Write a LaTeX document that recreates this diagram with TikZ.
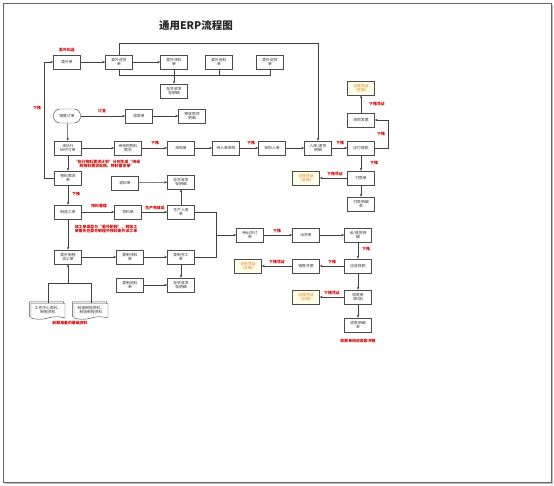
\documentclass[tikz,border=0pt]{standalone}
\usepackage{fontspec}
\newfontfamily\cjk{Noto Sans CJK SC}
\usetikzlibrary{arrows.meta,shapes.symbols,shadows}
\tikzset{
 bx/.style={draw=black!70, line width=0.45pt, fill=white, minimum width=27pt, minimum height=14pt, inner sep=0.5pt, align=center, font=\cjk\fontsize{3.8}{4.6}\selectfont, text=black!80},
 ybx/.style={bx, text=orange!90!black, fill=yellow!8},
 docbx/.style={bx, shape=tape, tape bend top=none, tape bend height=2.5pt, minimum height=16pt, minimum width=34pt, copy shadow={shadow xshift=-1.3pt, shadow yshift=1.3pt, fill=white, draw=black!70, line width=0.45pt}},
 lbl/.style={font=\cjk\bfseries\fontsize{3.9}{4.7}\selectfont, text=red!80!black, align=center, inner sep=0.5pt},
 ar/.style={draw=black!75, line width=0.5pt, -{Stealth[length=3pt,width=2.4pt]}},
 ln/.style={draw=black!75, line width=0.5pt},
}
\begin{document}
\begin{tikzpicture}[x=1pt,y=-1pt]
\useasboundingbox (0,0) rectangle (554,485);
\draw[black!25, line width=1.2pt] (5,483) -- (552,483) -- (552,5);
\draw[black!60, line width=0.7pt] (3,3) rectangle (551,482);
\node[font=\cjk\bfseries\fontsize{10.5}{12}\selectfont, text=black!85] (title) at (196,26) {通用ERP流程图};
% top row
\node[bx] (w1) at (67,62) {委外单};
\node[lbl] (l1) at (67,50) {委外料品};
\node[bx] (w2) at (119,62) {委外进货\\单};
\node[bx] (w3) at (174,62) {委外领料\\单};
\node[bx] (w4) at (219,62) {委外退料\\单};
\node[bx] (w5) at (270,62) {委外退货\\单};
\node[bx] (wm) at (174,91) {存货收发\\存明细};
% row 2
\node[bx, rounded corners=6.5pt] (so) at (67,116) {销售订单};
\node[bx] (sk) at (139,116) {收款单};
\node[bx] (ysk) at (192,116) {预收款项\\明细};
% row 3
\node[bx] (mrp) at (68,148) {未执行\\MRP订单};
\node[bx] (dcg) at (128,148) {待采购物料\\需求};
\node[bx] (cg) at (181,148) {采购单};
\node[bx] (drk) at (226,148) {待入库采购};
\node[bx] (cgrk) at (272,148) {采购入库};
\node[bx] (ruk) at (318,148) {入库/退货\\明细};
\node[bx] (yf) at (361,148) {应付账款};
\node[bx] (fp) at (361,120) {采购发票};
\node[ybx] (yz1) at (361,88) {记账凭证\\（总账）};
\node[bx] (fk) at (361,178) {付款单};
\node[ybx] (yz2) at (306,178) {记账凭证\\（总账）};
\node[bx] (fkmx) at (361,204) {付款明细\\表};
% left column
\node[bx] (wl) at (68,178) {物料需求\\单};
\node[bx] (tl) at (125,183) {退料单};
\node[bx] (mx2) at (181,182) {存货收发\\存明细};
\node[bx] (zz) at (68,212) {制造工单};
\node[bx] (ll) at (128,212) {领料单};
\node[bx] (sr) at (181,212) {生产入库\\单};
\node[bx] (wp) at (68,257) {委外制程\\派工单};
\node[bx] (wl2) at (130,257) {委制领料\\单};
\node[bx] (wg) at (181,257) {委制完工\\单};
\node[bx] (wt) at (130,285) {委制退料\\单};
\node[bx] (mx3) at (181,285) {存货收发\\存明细};
\node[docbx] (d1) at (48,310) {工作中心资料、\\制程资料};
\node[docbx] (d2) at (91,310) {制造制程资料、\\制造制程资料};
% right lower
\node[bx] (dch) at (250,235) {待出货订\\单};
\node[bx] (ch) at (306,235) {出货单};
\node[bx] (cth) at (358,235) {出/退货明\\细};
\node[bx] (ys2) at (358,266) {应收账款};
\node[bx] (kp) at (306,266) {销售开票};
\node[ybx] (yz3) at (248,266) {记账凭证\\（总账）};
\node[bx] (skx) at (358,297) {收款单\\（新增）};
\node[ybx] (yz4) at (306,297) {记账凭证\\（总账）};
\node[bx] (skmx) at (358,325) {收款明细\\表};
% red labels
\node[lbl] (r1) at (37,108) {下推};
\node[lbl] (r2) at (102,111) {订金};
\node[lbl] (r3) at (155,143) {下推};
\node[lbl] (r4) at (251,143) {下推};
\node[lbl] (r5) at (340,143) {下推};
\node[lbl] (r6) at (377,104) {下推凭证};
\node[lbl] (r7) at (381,134) {下推};
\node[lbl] (r8) at (374,163) {下推};
\node[lbl] (r9) at (335,174) {下推凭证};
\node[lbl] (r10) at (107,164) {“执行物料需求计划”分别生成“待采\\购物料需求采购、物料需求单”};
\node[lbl] (r11) at (76,194) {下推};
\node[lbl] (r12) at (99,206) {领料管理};
\node[lbl] (r13) at (155,208) {生产完成后};
\node[lbl] (r14) at (106,229) {加工单类型为“委外制程”，则加工\\单需先在委外制程中领料委外派工单};
\node[lbl] (r15) at (70,323) {前期准备的基础资料};
\node[lbl] (r16) at (277,231) {下推};
\node[lbl] (r17) at (366,249) {下推};
\node[lbl] (r18) at (332,262) {下推};
\node[lbl] (r19) at (277,262) {下推凭证};
\node[lbl] (r20) at (332,293) {下推凭证};
\node[lbl] (r21) at (358,341) {收款单和应收款冲销};
% coordinates
\coordinate (t1) at (119,43);
\coordinate (t2) at (318,43);
\coordinate (b2) at (119,75);
\coordinate (b5) at (270,75);
\coordinate (lf1) at (44,178);
\coordinate (lf2) at (44,62);
\coordinate (rl1) at (388,148);
\coordinate (rl2) at (388,120);
\coordinate (jm) at (68,283);
\coordinate (mg) at (216,235);
% connectors top
\draw[ar] (w1) -- (w2);
\draw[ar] (w2) -- (w3);
\draw[ar] (w3) -- (wm);
\draw[ar] (w2.north) -- (t1) -- (t2) -- (ruk.north);
\draw[ln] (w2.south) -- (b2) -- (b5) -- (w5.south);
\draw[ln] (w4.south) -- (w4.south |- b2);
\draw[ar] (wl.west) -- (lf1) -- (lf2) -- (w1.west);
% row 2,3
\draw[ar] (so) -- (sk);
\draw[ar] (sk) -- (ysk);
\draw[ar] (so) -- (mrp);
\draw[ar] (mrp) -- (dcg);
\draw[ar] (dcg) -- (cg);
\draw[ar] (cg) -- (drk);
\draw[ar] (drk) -- (cgrk);
\draw[ar] (cgrk) -- (ruk);
\draw[ar] (ruk) -- (yf);
\draw[ar] (yf.east) -- (rl1) -- (rl2) -- (fp.east);
\draw[ar] (fp) -- (yz1);
\draw[ar] (yf) -- (fk);
\draw[ar] (fk) -- (yz2);
\draw[ar] (fk) -- (fkmx);
% left column
\draw[ar] (mrp) -- (wl);
\draw[ar] (wl) -- (zz);
\draw[ar] (tl) -- (mx2);
\draw[ar] (zz) -- (ll);
\draw[ar] (ll) -- (sr);
\draw[ar] (sr) -- (mx2);
\draw[ar] (zz) -- (wp);
\draw[ar] (wp) -- (wl2);
\draw[ar] (wl2) -- (wg);
\draw[ar] (wg) -- (mx3);
\draw[ar] (wt) -- (mx3);
\draw[ln] (d1.north) -- (d1.north |- jm) -- (d2.north |- jm) -- (d2.north);
\draw[ar] (jm) -- (wp.south);
% right lower
\draw[ln] (sr.east) -| (mg);
\draw[ln] (wg.east) -| (mg);
\draw[ar] (mg) -- (dch.west);
\draw[ar] (dch) -- (ch);
\draw[ar] (ch) -- (cth);
\draw[ar] (cth) -- (ys2);
\draw[ar] (ys2) -- (kp);
\draw[ar] (kp) -- (yz3);
\draw[ar] (ys2) -- (skx);
\draw[ar] (skx) -- (yz4);
\draw[ar] (skx) -- (skmx);
\end{tikzpicture}
\end{document}
